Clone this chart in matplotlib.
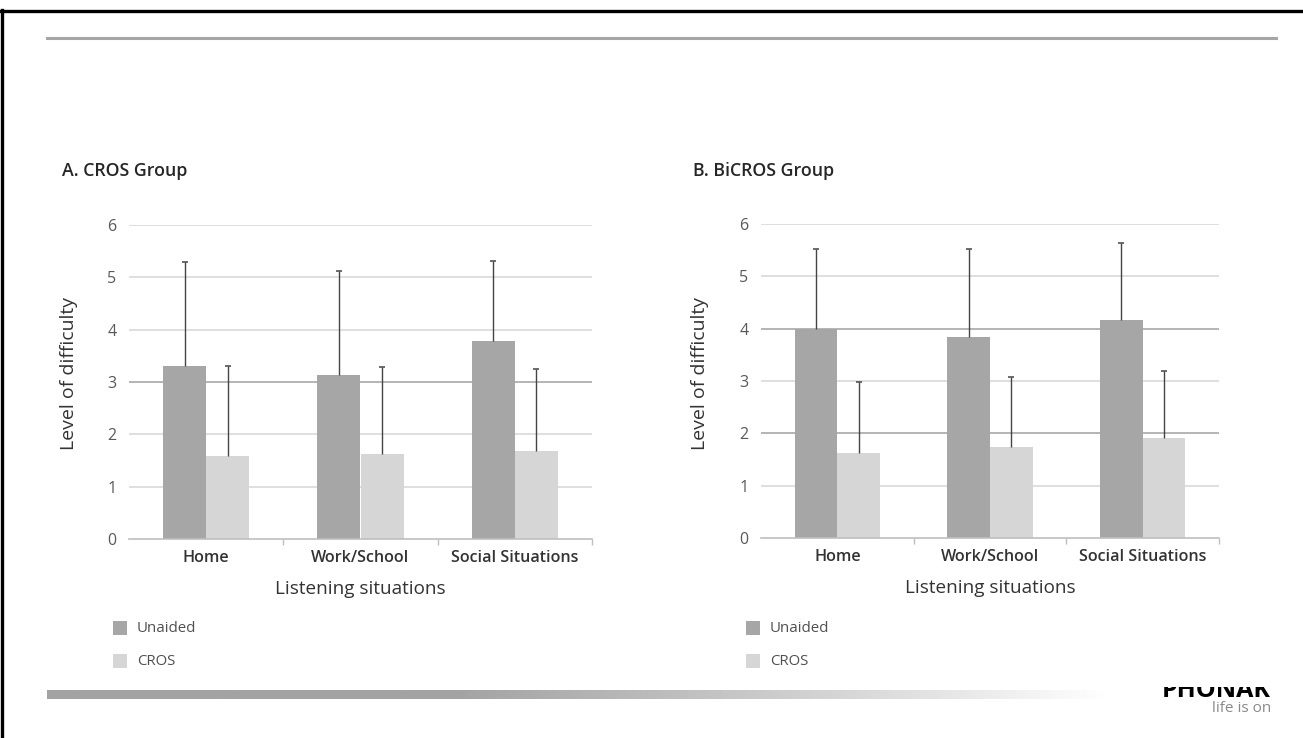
import numpy as np
import matplotlib
matplotlib.use("Agg")
import matplotlib.pyplot as plt
from matplotlib.patches import Rectangle
from matplotlib.lines import Line2D

W, H = 1303, 738

situations = ["Home", "Work/School", "Social Situations"]
series_names = ["Unaided", "CROS"]

# panel A: CROS group
cros_unaided = [3.31, 3.13, 3.79]
cros_unaided_sd = [1.98, 1.99, 1.52]
cros_aided = [1.59, 1.63, 1.69]
cros_aided_sd = [1.71, 1.65, 1.55]

# panel B: BiCROS group
bicros_unaided = [3.99, 3.85, 4.17]
bicros_unaided_sd = [1.53, 1.67, 1.47]
bicros_aided = [1.62, 1.73, 1.91]
bicros_aided_sd = [1.37, 1.35, 1.29]

y_ticks = [0, 1, 2, 3, 4, 5, 6]

FONT = ["Open Sans", "DejaVu Sans"]
plt.rcParams["font.family"] = FONT

C_UNAIDED = "#a6a6a6"
C_CROS = "#d6d6d6"
TXT = "#333333"


def fx(x):
    return x / W


def fy(y):
    return 1 - y / H


def upper_err(ax, xs, means, sds):
    tops = np.array(means) + np.array(sds)
    ax.vlines(xs, means, tops, color="#444444", lw=1.0, zorder=3)
    ax.plot(xs, tops, ls="none", marker="_", ms=4.5, mew=1.1, color="#444444", zorder=3)


def draw_panel(fig, box, title, title_x, unaided, unaided_sd, aided, aided_sd,
               dark_grid, legend_x, ylabel_x):
    left, top, right, bottom = box
    ax = fig.add_axes([fx(left), fy(bottom), (right - left) / W, (bottom - top) / H])
    x = np.arange(len(situations))
    w = 0.28
    ax.bar(x - w / 2, unaided, w, color=C_UNAIDED, zorder=2)
    ax.bar(x + w / 2, aided, w, color=C_CROS, zorder=2)
    upper_err(ax, x - w / 2, unaided, unaided_sd)
    upper_err(ax, x + w / 2, aided, aided_sd)

    for t in y_ticks[1:]:
        c = "#a8a8a8" if t in dark_grid else "#d9d9d9"
        ax.axhline(t, color=c, lw=1.2, zorder=0)

    ax.set_xlim(-0.5, 2.5)
    ax.set_ylim(0, 6)
    ax.set_yticks(y_ticks)
    ax.set_yticklabels([str(t) for t in y_ticks], fontsize=11.5, color="#595959")
    ax.tick_params(axis="y", length=0, pad=9)
    ax.set_xticks(x)
    ax.set_xticklabels(situations, fontsize=11.6, fontweight="semibold", color=TXT)
    ax.tick_params(axis="x", which="major", length=0, pad=8)
    ax.set_xticks([0.5, 1.5, 2.5], minor=True)
    ax.tick_params(axis="x", which="minor", length=4, color="#bfbfbf", width=1)
    for s in ["top", "right", "left"]:
        ax.spines[s].set_visible(False)
    ax.spines["bottom"].set_color("#bfbfbf")
    ax.spines["bottom"].set_linewidth(1.2)
    ax.set_xlabel("Listening situations", fontsize=13.6, color=TXT, labelpad=10)
    ax.set_ylabel("Level of difficulty", fontsize=14, color=TXT)
    ax.yaxis.set_label_coords((ylabel_x - left) / (right - left),
                              (bottom - 373) / (bottom - top))

    fig.text(fx(title_x), fy(171), title, fontsize=12.8, fontweight="semibold",
             color="#262626", ha="left", va="center")

    # legend
    for i, (name, col) in enumerate(zip(series_names, [C_UNAIDED, C_CROS])):
        yy = 628 + i * 32.5
        fig.patches.append(Rectangle((fx(legend_x), fy(yy + 7)), 14 / W, 14 / H,
                                     transform=fig.transFigure, facecolor=col,
                                     edgecolor="none"))
        fig.text(fx(legend_x + 24), fy(yy + 1), name, fontsize=10.8, color="#505050",
                 ha="left", va="center")
    return ax


fig = plt.figure(figsize=(W / 100, H / 100), dpi=100)
fig.patch.set_facecolor("white")

draw_panel(fig, (129, 225, 592, 539), "A. CROS Group", 62,
           cros_unaided, cros_unaided_sd, cros_aided, cros_aided_sd, [3], 113, 78)
draw_panel(fig, (761, 224, 1219, 538), "B. BiCROS Group", 693,
           bicros_unaided, bicros_unaided_sd, bicros_aided, bicros_aided_sd, [2, 4], 746, 709)

# slide frame and header rule
fig.add_artist(Line2D([fx(0), fx(W)], [fy(10.5), fy(10.5)], color="black", lw=2.4,
                      transform=fig.transFigure))
fig.add_artist(Line2D([fx(1.5), fx(1.5)], [fy(10), fy(H)], color="black", lw=2.4,
                      transform=fig.transFigure))
fig.add_artist(Line2D([fx(47), fx(1276)], [fy(37.5), fy(37.5)], color="#a6a6a6", lw=2.2,
                      transform=fig.transFigure))

# footer gradient bar: flat grey on the left, fading to white on the right
gax = fig.add_axes([fx(47), fy(699), (1110 - 47) / W, 9 / H])
t = np.linspace(0, 1, 512)
fade = np.clip((t - 0.38) / 0.62, 0, 1) ** 1.15
grad = 0.64 + (1 - 0.64) * fade
gax.imshow(grad[None, :], aspect="auto", cmap="gray", vmin=0, vmax=1)
gax.axis("off")

# logo: upper half of the wordmark is cut off in the slide
fig.text(fx(1271), fy(697), "PHONAK", fontsize=18, fontweight="bold",
         color="black", ha="right", va="baseline", zorder=3)
fig.add_artist(Rectangle((fx(1140), fy(687)), 160 / W, 25 / H, transform=fig.transFigure,
                         facecolor="white", edgecolor="none", zorder=4))
fig.text(fx(1271), fy(709), "life is on", fontsize=11, color="#8a8a8a",
         ha="right", va="center", zorder=5)

fig.savefig("out.png", dpi=100, facecolor="white")
